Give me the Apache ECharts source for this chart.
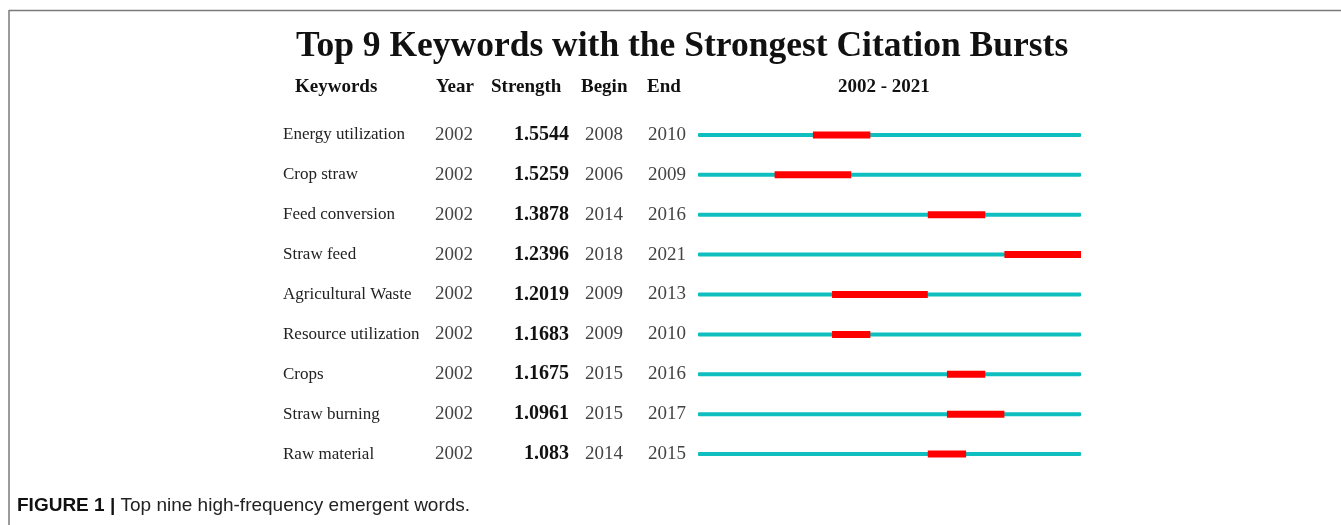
<!DOCTYPE html>
<html>
<head>
<meta charset="utf-8">
<script src="https://cdn.jsdelivr.net/npm/echarts@6/dist/echarts.min.js"></script>
<style>html,body{margin:0;padding:0;background:#fff;}#c{width:1341px;height:525px;}</style>
</head>
<body>
<div id="c"></div>
<script>
const keywords = ['Energy utilization','Crop straw','Feed conversion','Straw feed','Agricultural Waste','Resource utilization','Crops','Straw burning','Raw material'];
const years = ['2002','2002','2002','2002','2002','2002','2002','2002','2002'];
const strength = ['1.5544','1.5259','1.3878','1.2396','1.2019','1.1683','1.1675','1.0961','1.083'];
const begins = [2008,2006,2014,2018,2009,2009,2015,2015,2014];
const ends = [2010,2009,2016,2021,2013,2010,2016,2017,2015];
const rangeStart = 2002, rangeEnd = 2021;

const serif = '"Liberation Serif","Times New Roman",serif';
const sans = '"Liberation Sans",Arial,sans-serif';
const data = keywords.map((k,i)=>[i, begins[i], ends[i]]);

const chart = echarts.init(document.getElementById('c'));
chart.setOption({
  backgroundColor:'#fff',
  animation:false,
  title:{
    text:'Top 9 Keywords with the Strongest Citation Bursts',
    left:291, top:24,
    textStyle:{fontFamily:serif,fontSize:35.5,fontWeight:'bold',color:'#111'}
  },
  grid:{left:698,right:260,top:115,bottom:51},
  xAxis:{type:'value',min:rangeStart,max:rangeEnd+1,show:false},
  yAxis:{
    type:'category',data:keywords,inverse:true,
    axisLine:{show:false},axisTick:{show:false},splitLine:{show:false},
    axisLabel:{
      margin:12,
      formatter:(v,i)=>`{kw|${keywords[i]}}{yr|${years[i]}}{st|${strength[i]}}{bg|${begins[i]}}{en|${ends[i]}}`,
      rich:{
        kw:{width:152,align:'left',fontFamily:serif,fontSize:17,color:'#222'},
        yr:{width:50,align:'left',fontFamily:serif,fontSize:19,color:'#444'},
        st:{width:84,align:'right',fontFamily:serif,fontSize:20,fontWeight:'bold',color:'#111'},
        bg:{width:54,align:'right',fontFamily:serif,fontSize:19,color:'#444'},
        en:{width:63,align:'right',fontFamily:serif,fontSize:19,color:'#444'}
      }
    }
  },
  series:[{
    type:'custom',
    data:data,
    encode:{x:[1,2],y:0},
    renderItem:(params,api)=>{
      const idx = api.value(0);
      const a = api.coord([rangeStart, idx]);
      const b = api.coord([rangeEnd+1, idx]);
      const r1 = api.coord([api.value(1), idx]);
      const r2 = api.coord([api.value(2)+1, idx]);
      return {type:'group',children:[
        {type:'rect',shape:{x:a[0],y:a[1]-2,width:b[0]-a[0],height:4,r:1},style:{fill:'#0fbfbf'}},
        {type:'rect',shape:{x:r1[0],y:r1[1]-3.5,width:r2[0]-r1[0],height:7},style:{fill:'#ff0000'}}
      ]};
    }
  }],
  graphic:[
    {type:'line',shape:{x1:9,y1:10.5,x2:1341,y2:10.5},style:{stroke:'#7a7a7a',lineWidth:1.5}},
    {type:'line',shape:{x1:9,y1:10,x2:9,y2:525},style:{stroke:'#7a7a7a',lineWidth:1.5}},
    {type:'text',left:295,top:78,style:{text:'Keywords',font:'bold 19px '+serif,fill:'#111'}},
    {type:'text',left:436,top:78,style:{text:'Year',font:'bold 19px '+serif,fill:'#111'}},
    {type:'text',left:491,top:78,style:{text:'Strength',font:'bold 19px '+serif,fill:'#111'}},
    {type:'text',left:581,top:78,style:{text:'Begin',font:'bold 19px '+serif,fill:'#111'}},
    {type:'text',left:647,top:78,style:{text:'End',font:'bold 19px '+serif,fill:'#111'}},
    {type:'text',left:838,top:78,style:{text:'2002 - 2021',font:'bold 19px '+serif,fill:'#111'}},
    {type:'text',left:17,top:496,style:{rich:{
      a:{fontFamily:sans,fontSize:19,fontWeight:'bold',fill:'#111'},
      b:{fontFamily:sans,fontSize:19,fill:'#222'}
    },text:'{a|FIGURE 1 | }{b|Top nine high-frequency emergent words.}'}}
  ]
});
</script>
</body>
</html>
